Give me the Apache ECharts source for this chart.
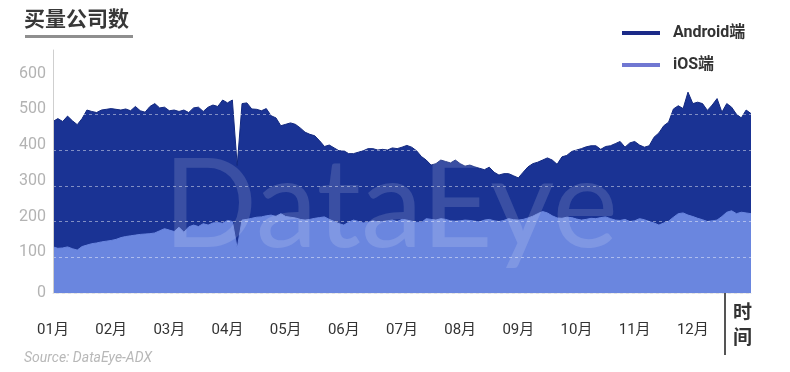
<!DOCTYPE html>
<html>
<head>
<meta charset="utf-8">
<script src="https://cdn.jsdelivr.net/npm/echarts@6/dist/echarts.min.js"></script>
<style>
html,body{margin:0;padding:0;background:#fff;}
#c{width:790px;height:372px;}
</style>
</head>
<body>
<div id="c"></div>
<script>
// ---- data (12 samples per month) ----
const monthLabels = ['01月','02月','03月','04月','05月','06月','07月','08月','09月','10月','11月','12月'];
const pointsPerMonth = 12;
const seriesNames = ['Android端', 'iOS端'];

const androidValues = [
  480,488,480,495,482,471,488,512,508,505,512,514,
  516,514,512,515,510,522,510,506,522,530,518,520,
  510,512,508,512,505,518,520,508,520,526,522,540,
  532,540,357,530,532,515,514,510,516,496,490,468,
  472,476,472,462,450,444,440,426,410,414,406,398,
  398,390,390,394,398,404,404,400,402,400,406,404,
  408,413,408,398,382,372,358,362,372,368,364,372,
  362,355,358,353,349,345,352,338,330,334,334,328,
  322,338,353,362,366,372,378,372,360,381,385,396,
  400,404,409,412,412,402,410,412,418,424,408,420,
  424,414,408,412,436,448,468,478,515,524,516,562,
  530,534,530,511,526,544,506,530,520,500,490,512,
  502
];

const iosValues = [
  129,125,126,129,124,120,130,134,138,140,143,145,
  147,150,155,158,160,162,164,165,166,168,174,180,
  176,172,184,170,185,190,186,194,190,196,197,195,
  203,200,125,204,206,209,212,213,216,218,214,222,
  214,212,210,206,204,206,209,211,213,206,200,194,
  190,198,204,200,196,198,202,199,200,202,204,200,
  206,204,201,198,197,208,206,204,208,206,202,201,
  202,204,203,201,199,204,206,202,200,203,208,205,
  204,206,210,215,222,228,224,216,210,209,212,211,
  207,204,206,209,208,211,213,208,204,203,206,200,
  202,208,205,200,196,190,196,201,212,222,224,218,
  214,209,205,200,202,204,214,226,230,222,226,224,
  222
];

const categories = androidValues.map((_, i) => String(i));
const isMonthStart = (i) => i % pointsPerMonth === 0 && i / pointsPerMonth < monthLabels.length;

const chart = echarts.init(document.getElementById('c'), null, {renderer: 'canvas'});

const option = {
  animation: false,
  backgroundColor: '#ffffff',
  textStyle: {fontFamily: 'Roboto, "Noto Sans CJK SC", sans-serif'},
  grid: {left: 53, right: 39, top: 50, bottom: 79, containLabel: false},
  legend: {
    orient: 'vertical',
    left: 617,
    top: 18,
    icon: 'rect',
    itemWidth: 38,
    itemHeight: 4,
    itemGap: 12,
    selectedMode: false,
    textStyle: {
      fontFamily: 'Roboto, "Noto Sans CJK SC", sans-serif',
      fontSize: 16,
      fontWeight: 'bold',
      color: '#333333',
      lineHeight: 20,
      padding: [0, 0, 0, 8]
    },
    data: [
      {name: seriesNames[0], itemStyle: {color: '#1b2a88'}},
      {name: seriesNames[1], itemStyle: {color: '#7077d2'}}
    ]
  },
  xAxis: {
    type: 'category',
    boundaryGap: false,
    data: categories,
    offset: 19,
    axisLine: {show: true, lineStyle: {color: '#e2e2e2', width: 1}},
    axisTick: {
      show: true,
      inside: true,
      length: 9,
      interval: (i) => isMonthStart(i),
      lineStyle: {color: '#8a8a8a', width: 1}
    },
    axisLabel: {
      interval: (i) => isMonthStart(i),
      formatter: (v, i) => isMonthStart(i) ? monthLabels[i / pointsPerMonth] : '',
      margin: 11,
      fontSize: 15,
      color: '#333333',
      fontFamily: 'Roboto, "Noto Sans CJK SC", sans-serif'
    },
    splitLine: {show: false}
  },
  yAxis: {
    type: 'value',
    min: 0,
    max: 680,
    interval: 100,
    z: 5,
    axisLine: {show: true, lineStyle: {color: '#cfcfcf', width: 1}},
    axisTick: {show: false},
    axisLabel: {
      showMaxLabel: false,
      margin: 7,
      formatter: (v) => v === 0 ? '{z|0}' : '{n|' + v + '}',
      rich: {
        z: {fontSize: 16, color: '#b3b3b3', fontFamily: 'Roboto, sans-serif'},
        n: {fontSize: 16, color: '#b3b3b3', fontFamily: 'Roboto, sans-serif', padding: [0, 0, 10, 0]}
      }
    },
    splitLine: {
      show: true,
      lineStyle: {type: [3, 3], color: 'rgba(255,255,255,0.45)', width: 1}
    }
  },
  series: [
    {
      name: seriesNames[0],
      type: 'line',
      data: androidValues,
      showSymbol: false,
      symbol: 'none',
      z: 2,
      itemStyle: {color: '#1b2a88'},
      lineStyle: {color: '#12287f', width: 1},
      areaStyle: {color: '#1a3394', opacity: 1}
    },
    {
      name: seriesNames[1],
      type: 'line',
      data: iosValues,
      showSymbol: false,
      symbol: 'none',
      z: 3,
      itemStyle: {color: '#7077d2'},
      lineStyle: {color: '#6a86df', width: 1},
      areaStyle: {color: '#6a86df', opacity: 1}
    }
  ],
  graphic: [
    {
      type: 'text', left: 24, top: 8, z: 10,
      style: {text: '买量公司数', fontSize: 21, fontWeight: 'bold', fill: '#383838',
              fontFamily: '"Noto Sans CJK SC", sans-serif'}
    },
    {
      type: 'rect', shape: {x: 25, y: 35, width: 108, height: 3}, z: 10,
      style: {fill: '#8f8f8f'}
    },
    {
      type: 'text', z: 20, silent: true,
      style: {x: 163, y: 207, text: 'DataEye', fontSize: 124, fontWeight: 'normal',
              fill: 'rgba(255,255,255,0.14)', verticalAlign: 'middle',
              fontFamily: 'Lato, "Noto Sans", sans-serif'}
    },
    {
      type: 'line', z: 10,
      shape: {x1: 725, y1: 293, x2: 725, y2: 355},
      style: {stroke: '#555555', lineWidth: 2}
    },
    {
      type: 'text', z: 10,
      style: {x: 733, y: 299, text: '时\n间', fontSize: 19, lineHeight: 25, fontWeight: 'bold',
              fill: '#333333', fontFamily: '"Noto Sans CJK SC", sans-serif'}
    },
    {
      type: 'text', z: 10,
      style: {x: 24, y: 351, text: 'Source: DataEye-ADX', fontSize: 14, fontStyle: 'italic',
              fill: '#b8b8b8', fontFamily: 'Roboto, sans-serif'}
    }
  ]
};

chart.setOption(option);
</script>
</body>
</html>
